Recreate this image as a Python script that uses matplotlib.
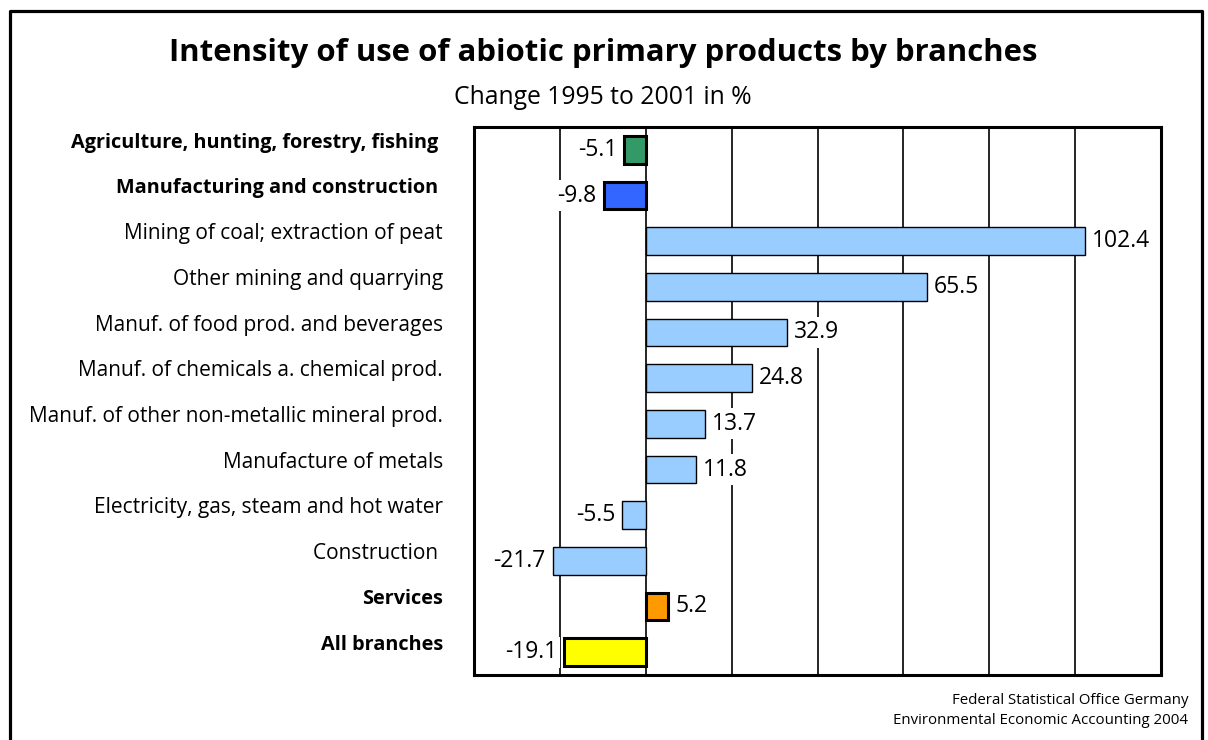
import matplotlib
matplotlib.use("Agg")
import matplotlib.pyplot as plt
from matplotlib.lines import Line2D

# data
branches = [
    "Agriculture, hunting, forestry, fishing ",
    "Manufacturing and construction ",
    "Mining of coal; extraction of peat",
    "Other mining and quarrying",
    "Manuf. of food prod. and beverages",
    "Manuf. of chemicals a. chemical prod.",
    "Manuf. of other non-metallic mineral prod.",
    "Manufacture of metals",
    "Electricity, gas, steam and hot water",
    "Construction ",
    "Services",
    "All branches",
]
change = [-5.1, -9.8, 102.4, 65.5, 32.9, 24.8, 13.7, 11.8, -5.5, -21.7, 5.2, -19.1]
bar_colors = ["#339966", "#3366FF", "#99CCFF", "#99CCFF", "#99CCFF", "#99CCFF",
              "#99CCFF", "#99CCFF", "#99CCFF", "#99CCFF", "#FF9900", "#FFFF00"]
highlight = [True, True, False, False, False, False, False, False, False, False, True, True]

plt.rcParams["font.family"] = ["Open Sans", "DejaVu Sans"]

fig = plt.figure(figsize=(12.08, 7.40), dpi=100)
ax = fig.add_axes([474 / 1208, 65 / 740, 687 / 1208, 548 / 740])

for i, (v, c, h) in enumerate(zip(change, bar_colors, highlight)):
    ax.barh(i, v, height=0.6, color=c, edgecolor="black",
            linewidth=2.2 if h else 1.0, zorder=3)
    off = 5 if v >= 0 else -5
    ax.annotate(f"{v:.1f}", (v, i), xytext=(off, 0), textcoords="offset points",
                ha="left" if v >= 0 else "right", va="center", fontsize=16.5, zorder=4,
                bbox=dict(boxstyle="square,pad=0.15", fc="white", ec="none"))
    ax.text(-0.045, i - 0.16, branches[i], transform=ax.get_yaxis_transform(),
            ha="right", va="center", fontsize=15 if not h else 14.3,
            fontweight="bold" if h else "normal")

ax.set_xlim(-40, 120)
ax.set_ylim(len(branches) - 0.5, -0.5)
ax.set_xticks(range(-40, 121, 20))
ax.set_yticks([])
ax.tick_params(axis="x", length=0, labelbottom=False)
ax.grid(axis="x", color="black", linewidth=1.2, zorder=1)
ax.set_axisbelow(True)
for s in ax.spines.values():
    s.set_linewidth(2.2)

fig.text(603 / 1208, 1 - 53 / 740, "Intensity of use of abiotic primary products by branches",
         ha="center", va="center", fontsize=22.4, fontweight="bold")
fig.text(603 / 1208, 1 - 98 / 740, "Change 1995 to 2001 in %",
         ha="center", va="center", fontsize=17.8)
fig.text(1188 / 1208, 1 - 701 / 740, "Federal Statistical Office Germany",
         ha="right", va="center", fontsize=10.85)
fig.text(1188 / 1208, 1 - 721 / 740, "Environmental Economic Accounting 2004",
         ha="right", va="center", fontsize=10.85)

# outer frame, open at the bottom
fx0, fx1, fy = 9.5 / 1208, 1201.5 / 1208, 1 - 10.5 / 740
fig.add_artist(Line2D([fx0, fx0, fx1, fx1], [0, fy, fy, 0], color="black", linewidth=2.3))

fig.savefig("out.png", dpi=100)
